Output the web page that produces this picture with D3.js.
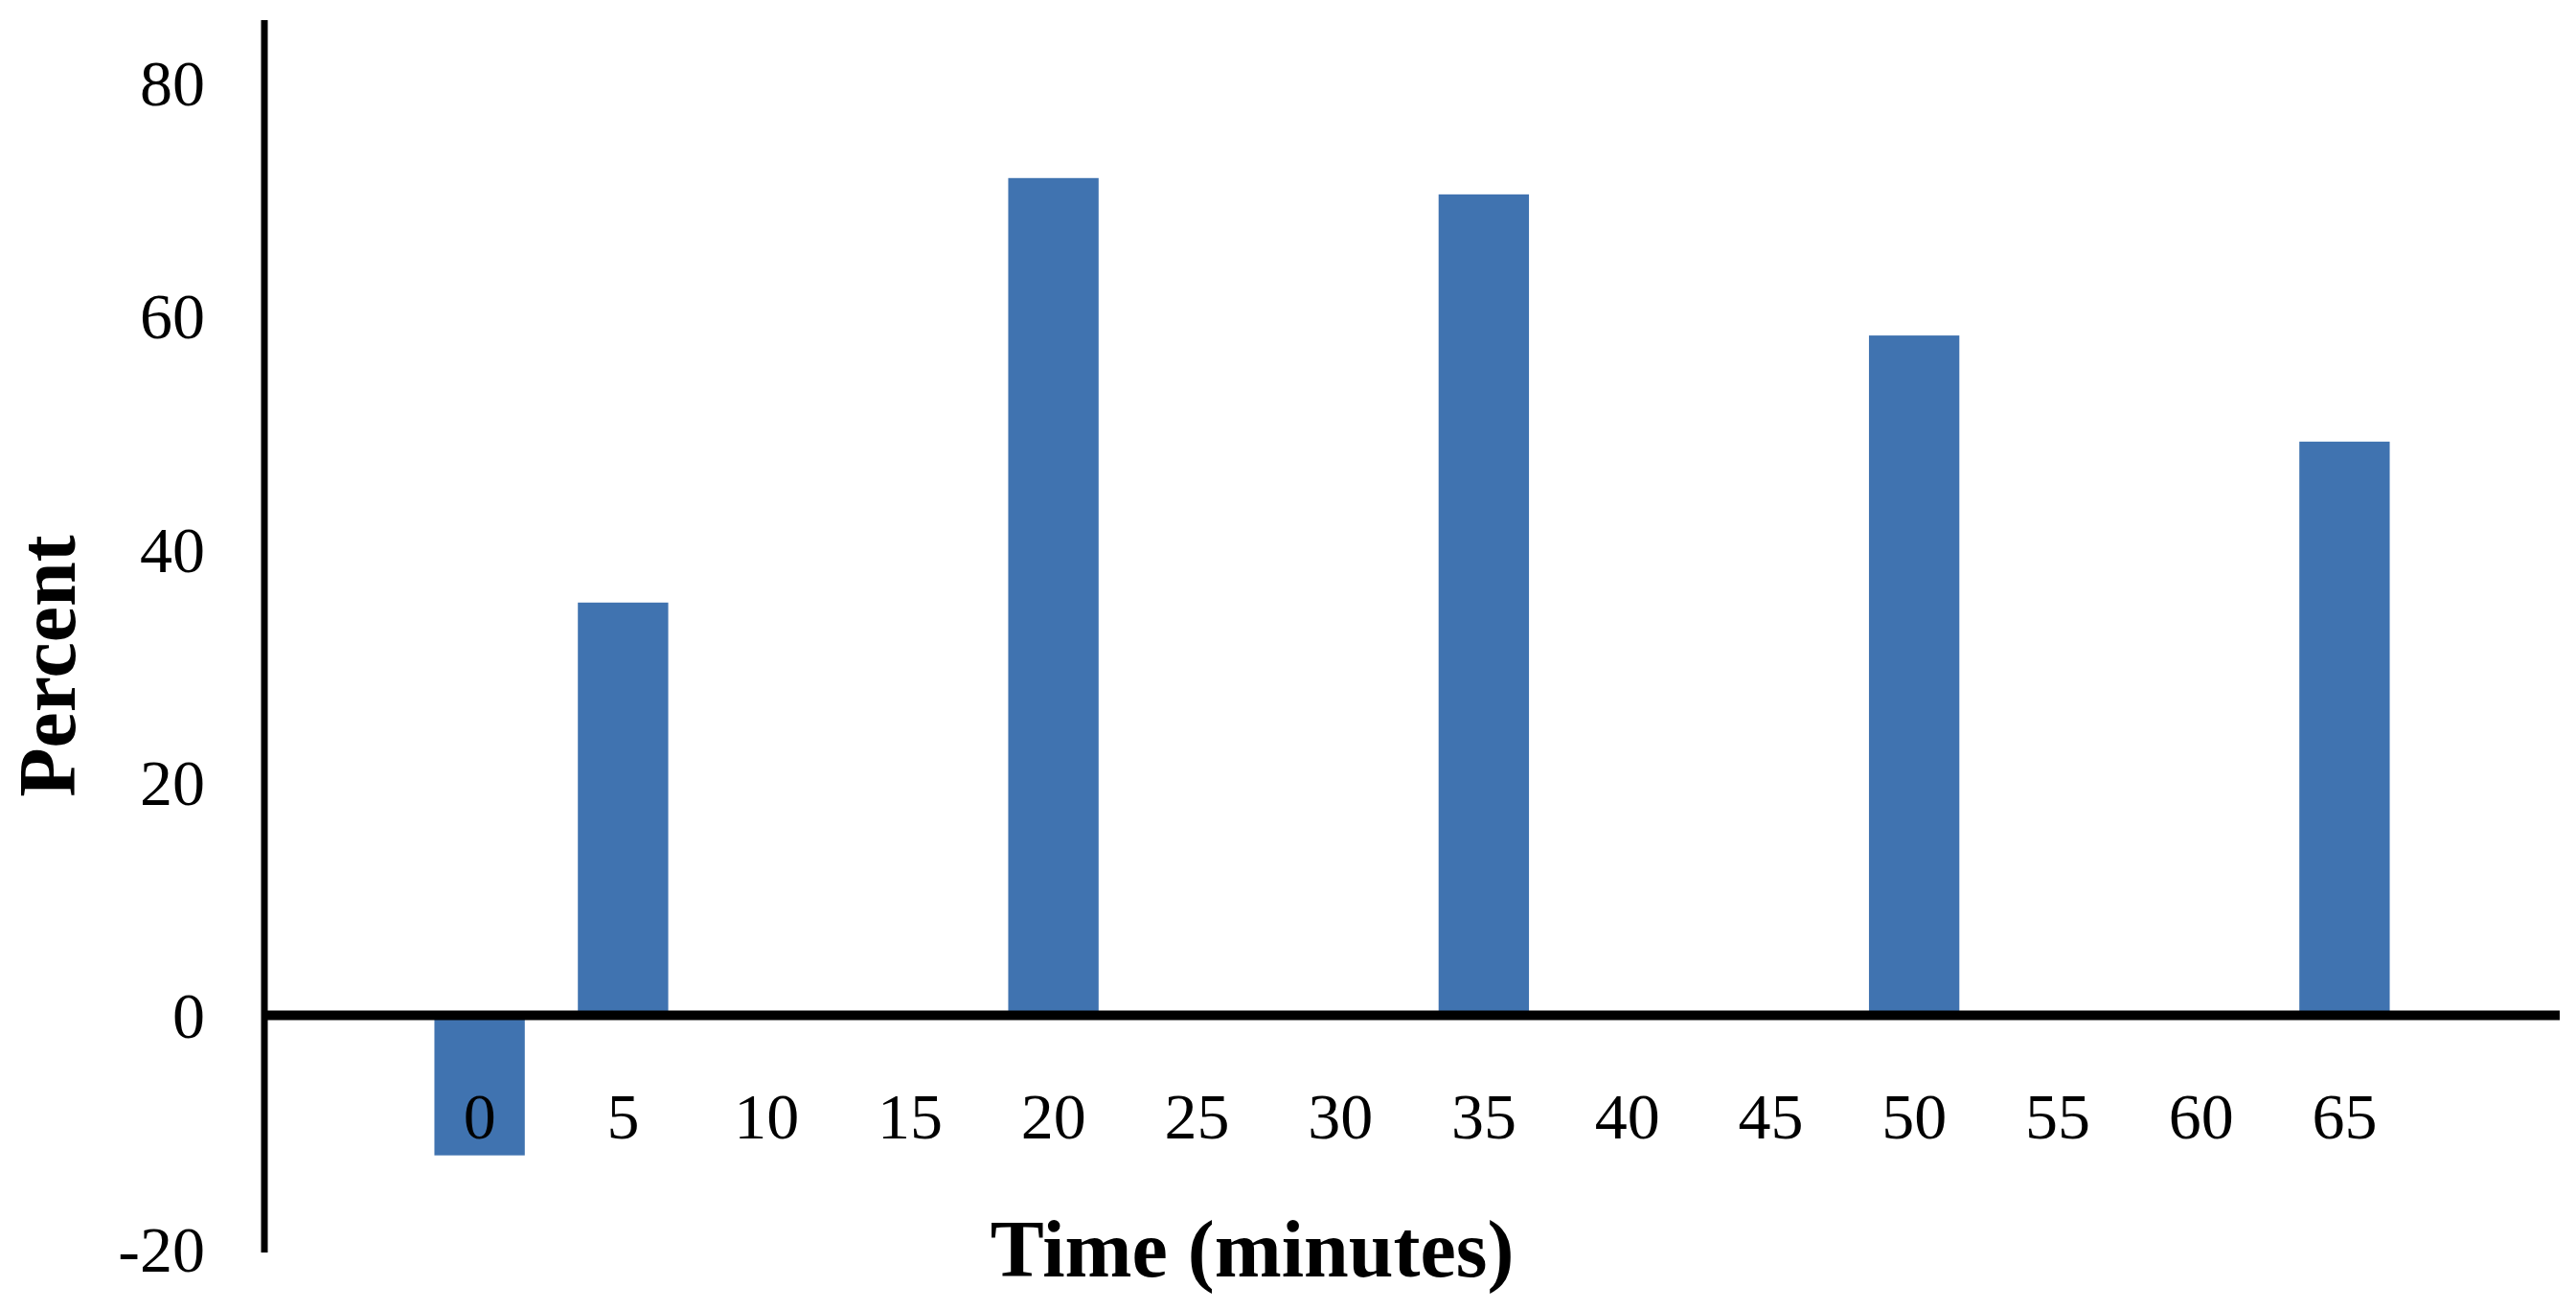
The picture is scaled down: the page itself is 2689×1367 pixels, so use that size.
<!DOCTYPE html>
<html>
<head>
<meta charset="utf-8">
<script src="https://cdn.jsdelivr.net/npm/d3@7"></script>
<style>
  body { margin: 0; background: #fff; }
  svg { display: block; font-family: 'Liberation Serif', 'Times New Roman', serif; }
</style>
</head>
<body>
<svg width="2689" height="1367"></svg>
<script>
const categories = ['0', '5', '10', '15', '20', '25', '30', '35', '40', '45', '50', '55', '60', '65'];
const values = [-12, 35.4, 0, 0, 71.8, 0, 0, 70.4, 0, 0, 58.3, 0, 0, 49.2];
const yTicks = [-20, 0, 20, 40, 60, 80];

var svgElement = d3.select('svg');

var xScale = d3.scaleBand().domain(categories).range([276, 2672]).paddingInner(0).paddingOuter(1);
var yScale = d3.scaleLinear().domain([-20, 80]).range([1303, 86]);

var barWidth = xScale.bandwidth() * 0.63;

svgElement.append('g')
  .selectAll('rect')
  .data(values)
  .enter()
  .append('rect')
  .attr('x', function (d, i) { return xScale(categories[i]) + (xScale.bandwidth() - barWidth) / 2; })
  .attr('width', barWidth)
  .attr('y', function (d) { return yScale(Math.max(0, d)); })
  .attr('height', function (d) { return Math.abs(yScale(d) - yScale(0)); })
  .attr('fill', '#4073b0');

// y axis line and labels
svgElement.append('line')
  .attr('x1', 276).attr('x2', 276)
  .attr('y1', 21).attr('y2', 1307)
  .attr('stroke', '#000').attr('stroke-width', 7);

svgElement.append('g')
  .selectAll('text')
  .data(yTicks)
  .enter()
  .append('text')
  .attr('x', 214)
  .attr('y', function (d) { return yScale(d); })
  .attr('dy', '0.35em')
  .attr('text-anchor', 'end')
  .attr('font-size', 68)
  .text(function (d) { return d; });

// zero line
svgElement.append('line')
  .attr('x1', 276).attr('x2', 2672)
  .attr('y1', yScale(0)).attr('y2', yScale(0))
  .attr('stroke', '#000').attr('stroke-width', 10);

// category labels
svgElement.append('g')
  .selectAll('text')
  .data(categories)
  .enter()
  .append('text')
  .attr('x', function (d) { return xScale(d) + xScale.bandwidth() / 2; })
  .attr('y', 1188)
  .attr('text-anchor', 'middle')
  .attr('font-size', 68)
  .text(function (d) { return d; });

svgElement.append('text')
  .attr('x', 1307)
  .attr('y', 1332)
  .attr('text-anchor', 'middle')
  .attr('font-size', 84)
  .attr('font-weight', 'bold')
  .text('Time (minutes)');

svgElement.append('text')
  .attr('transform', 'translate(78,695) rotate(-90)')
  .attr('text-anchor', 'middle')
  .attr('font-size', 84)
  .attr('font-weight', 'bold')
  .text('Percent');
</script>
</body>
</html>
